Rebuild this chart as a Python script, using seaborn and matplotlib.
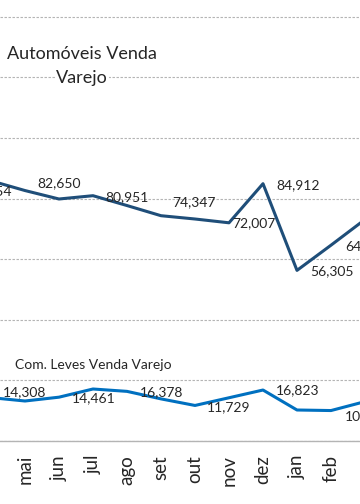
import matplotlib
matplotlib.use("Agg")
import matplotlib.pyplot as plt
import numpy as np
import pandas as pd
import seaborn as sns

# monthly retail sales (units), one value per month
months = ["abr", "mai", "jun", "jul", "ago", "set", "out", "nov", "dez", "jan", "feb", "mar"]
automoveis = [85854, 82650, 79860, 80951, 77700, 74347, 73260, 72007, 84912, 56305, 64617, 73100]
com_leves = [14308, 13200, 14461, 17160, 16378, 13900, 11729, 14270, 16823, 10230, 10050, 13000]

# which months carry a data label
auto_labeled = [0, 1, 3, 5, 7, 8, 9, 10]
leves_labeled = [0, 2, 4, 6, 8, 10]

PX = 0.72  # points per pixel at dpi 100

sns.set_theme(style="white")
plt.rcParams["font.family"] = ["Lato", "DejaVu Sans"]

df = pd.concat(
    [
        pd.DataFrame({"x": np.arange(len(months)), "value": automoveis, "serie": "auto"}),
        pd.DataFrame({"x": np.arange(len(months)), "value": com_leves, "serie": "leves"}),
    ]
)

fig = plt.figure(figsize=(3.6, 5.04), dpi=100)
ax = fig.add_axes([0, 63 / 504, 1, 441 / 504])

sns.lineplot(
    data=df, x="x", y="value", hue="serie",
    palette={"auto": "#1f4e79", "leves": "#0070c0"},
    linewidth=2.2, legend=False, ax=ax, zorder=3,
)

ax.set_yticks(np.arange(0, 145000, 20000))
ax.yaxis.grid(True, color="#b4b4b4", linestyle=(0, (2.2, 1.4)), linewidth=0.8)
ax.set_axisbelow(True)
ax.tick_params(axis="y", length=0, labelleft=False)

ax.set_xticks(np.arange(len(months)))
ax.set_xticklabels(months, rotation=90, fontsize=13.5, color="#262626")
ax.set_xticks(np.arange(len(months) + 1) - 0.5, minor=True)
ax.tick_params(axis="x", which="major", length=0, pad=10)
ax.tick_params(axis="x", which="minor", length=4.3, width=0.8, color="#b4b4b4", direction="out")
ax.set_xlabel("")
ax.set_ylabel("")

# the view is a window onto a wider chart
ax.set_xlim(0.265, 10.853)
ax.set_ylim(0, 145530)

for side in ["left", "right", "top"]:
    ax.spines[side].set_visible(False)
ax.spines["bottom"].set_color("#b4b4b4")
ax.spines["bottom"].set_linewidth(1.0)

# label offsets in pixels (dx, dy up)
auto_off = [(21, -10), (12, 7.5), (12, -1.3), (11, 13.7), (3, 0), (13, -1.3), (13, -0.6), (14, -1)]
leves_off = [(12, 5.6), (13, -0.8), (13, -0.6), (12, -1.5), (13, 0), (14, -5.5)]

for k, i in enumerate(auto_labeled):
    dx, dy = auto_off[k]
    ax.annotate(
        f"{automoveis[i]:,}", (i, automoveis[i]), xytext=(dx * PX, dy * PX),
        textcoords="offset points", ha="right" if k == 0 else "left", va="center",
        fontsize=10, color="#262626", zorder=4, annotation_clip=False,
    )
for k, i in enumerate(leves_labeled):
    dx, dy = leves_off[k]
    ax.annotate(
        f"{com_leves[i]:,}", (i, com_leves[i]), xytext=(dx * PX, dy * PX),
        textcoords="offset points", ha="left", va="center",
        fontsize=10, color="#262626", zorder=4, annotation_clip=False,
    )

fig.text(
    82 / 360, 1 - 54 / 504, "Automóveis Venda", ha="center", va="center",
    fontsize=13, color="#262626",
)
fig.text(
    82 / 360, 1 - 78 / 504, "Varejo", ha="center", va="center",
    fontsize=13, color="#262626",
    bbox=dict(facecolor="white", edgecolor="none", pad=0.5),
)
fig.text(
    93.5 / 360, 1 - 365 / 504, "Com. Leves Venda Varejo", ha="center", va="center",
    fontsize=10, color="#262626",
)

fig.savefig("out.png", dpi=100)
